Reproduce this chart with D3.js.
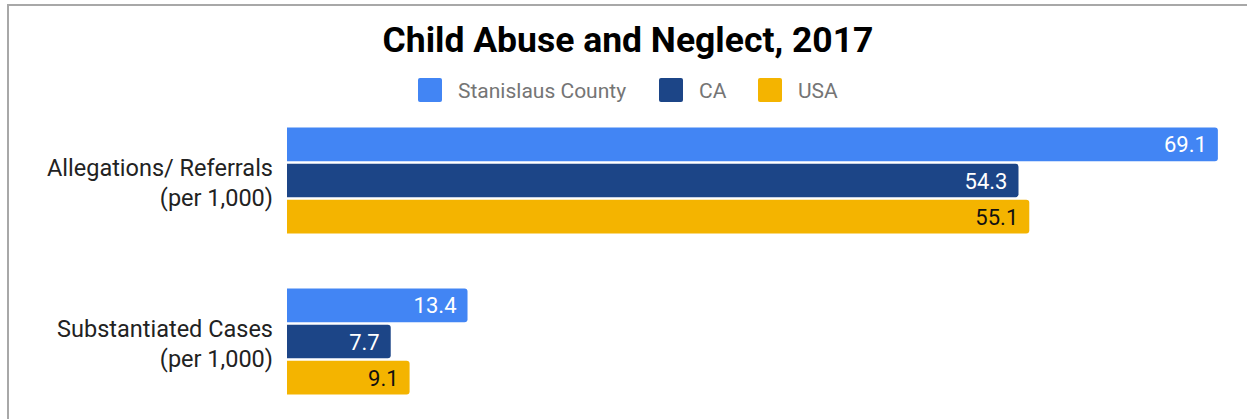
<!DOCTYPE html>
<html>
  <head>
    <meta charset="utf-8" />
    <title>Child Abuse and Neglect, 2017</title>
    <script src="https://d3js.org/d3.v7.min.js"></script>
    <style>
      body { margin: 0; background: #fff; }
      text { font-family: Roboto, "Noto Sans", Arial, sans-serif; }
    </style>
  </head>
  <body>
    <div id="chart"></div>
    <script>
const categories = [
  ["Allegations/ Referrals", "(per 1,000)"],
  ["Substantiated Cases", "(per 1,000)"]
];
const series = ["Stanislaus County", "CA", "USA"];
const stanislaus = [69.1, 13.4];
const ca = [54.3, 7.7];
const usa = [55.1, 9.1];
const seriesValues = [stanislaus, ca, usa];
const colors = ["#4285f4", "#1c4587", "#f4b400"];
const labelColors = ["#ffffff", "#ffffff", "#111111"];

const width = 1247, height = 419;

const svg = d3.select("#chart").append("svg")
  .attr("width", width)
  .attr("height", height);

// frame (only top and left edges visible in the crop)
svg.append("path")
  .attr("d", `M8,${height} V5 H${width}`)
  .attr("fill", "none")
  .attr("stroke", "#a8a8a8")
  .attr("stroke-width", 2);

svg.append("text")
  .attr("x", 628)
  .attr("y", 52)
  .attr("text-anchor", "middle")
  .style("font-size", "35.5px")
  .style("font-weight", 700)
  .attr("fill", "#000")
  .text("Child Abuse and Neglect, 2017");

// legend
const legendX = [418, 659, 758];
const legend = svg.selectAll("g.legend")
  .data(series)
  .join("g")
  .attr("class", "legend")
  .attr("transform", (d, i) => `translate(${legendX[i]},78)`);
legend.append("rect")
  .attr("width", 24).attr("height", 24).attr("rx", 2)
  .attr("fill", (d, i) => colors[i]);
legend.append("text")
  .attr("x", 40).attr("y", 20)
  .style("font-size", "21px")
  .attr("fill", "#757575")
  .text(d => d);

const x = d3.scaleLinear().domain([0, 70]).range([287, 1230]);
const y0 = d3.scaleBand().domain(d3.range(categories.length)).range([100, 422]);
const y1 = d3.scaleBand().domain(series)
  .range([y0.bandwidth() / 2 - 53, y0.bandwidth() / 2 + 53])
  .paddingInner(0.07);

// bar shape: square left, rounded right corners
function barPath(x0, x1, yt, h, r) {
  r = Math.min(r, x1 - x0);
  return `M${x0},${yt} H${x1 - r} Q${x1},${yt} ${x1},${yt + r}` +
    ` V${yt + h - r} Q${x1},${yt + h} ${x1 - r},${yt + h} H${x0} Z`;
}

const groups = svg.selectAll("g.group")
  .data(categories)
  .join("g")
  .attr("class", "group")
  .attr("transform", (d, i) => `translate(0,${y0(i)})`);

groups.each(function (cat, ci) {
  const g = d3.select(this);
  const rows = series.map((s, si) => ({ s, si, v: seriesValues[si][ci] }));
  g.selectAll("path.bar")
    .data(rows)
    .join("path")
    .attr("class", "bar")
    .attr("d", d => barPath(x(0), x(d.v), y1(d.s), y1.bandwidth(), 3))
    .attr("fill", d => colors[d.si]);
  g.selectAll("text.val")
    .data(rows)
    .join("text")
    .attr("class", "val")
    .attr("x", d => x(d.v) - 11)
    .attr("y", d => y1(d.s) + y1.bandwidth() / 2 + 8)
    .attr("text-anchor", "end")
    .style("font-size", "22px")
    .attr("fill", d => labelColors[d.si])
    .text(d => d.v.toFixed(1));

  const lbl = g.append("text")
    .attr("text-anchor", "end")
    .style("font-size", "23.5px")
    .attr("fill", "#222");
  cat.forEach((line, li) => {
    lbl.append("tspan")
      .attr("x", 273)
      .attr("y", y0.bandwidth() / 2 - 5 + li * 30)
      .text(line);
  });
});
    </script>
  </body>
</html>
